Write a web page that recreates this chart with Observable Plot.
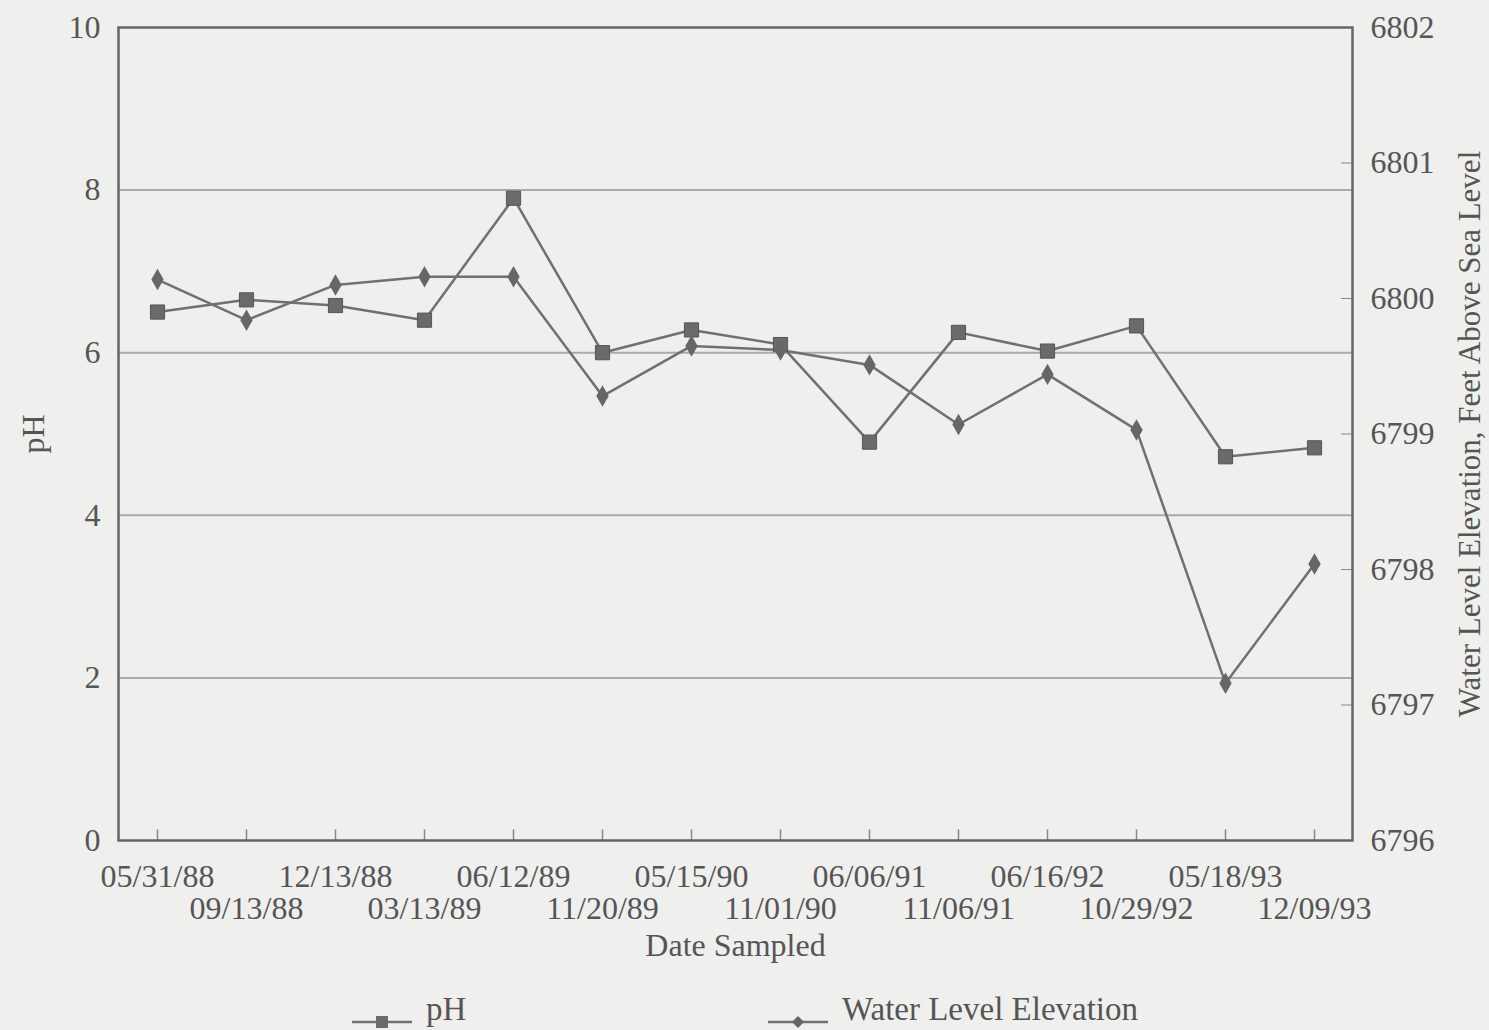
<!DOCTYPE html>
<html><head><meta charset="utf-8">
<script src="https://cdn.jsdelivr.net/npm/d3@7"></script>
<script src="https://cdn.jsdelivr.net/npm/@observablehq/plot@0.6"></script>
<style>
body{margin:0;background:#efefed;font-family:"Liberation Serif",serif;color:#555;}
#legend{position:relative;width:1489px;height:50px;font-size:33px;}
.item{position:absolute;top:4px;height:50px;display:flex;align-items:center;}
</style></head>
<body>
<div id="chart"></div>
<div id="legend"></div>
<script>
const dates = ["05/31/88","09/13/88","12/13/88","03/13/89","06/12/89","11/20/89","05/15/90","11/01/90","06/06/91","11/06/91","06/16/92","10/29/92","05/18/93","12/09/93"];
const pH = [6.5,6.65,6.58,6.4,7.9,6.0,6.28,6.1,4.9,6.25,6.02,6.33,4.72,4.83];
const waterLevel = [6800.14,6799.84,6800.10,6800.16,6800.16,6799.28,6799.65,6799.62,6799.51,6799.07,6799.44,6799.03,6797.16,6798.04];
const pHTicks = [0,2,4,6,8,10];
const gridTicks = [2,4,6,8];
const waterTicks = [6796,6797,6798,6799,6800,6801,6802];
const wMin = 6796, wMax = 6802;

const toPH = w => (w - wMin) * 10 / (wMax - wMin);
const phData = dates.map((d,i)=>({date:d, v:pH[i]}));
const wData = dates.map((d,i)=>({date:d, v:toPH(waterLevel[i]), w:waterLevel[i]}));
const even = dates.filter((d,i)=>i%2===0);
const odd = dates.filter((d,i)=>i%2===1);

const chart = Plot.plot({
  width:1489, height:980,
  marginLeft:118, marginRight:137, marginTop:27, marginBottom:140,
  style:{background:"#efefed", fontFamily:"Liberation Serif, serif", fontSize:"32px", color:"#555"},
  x:{type:"point", domain:dates, padding:0.43},
  y:{domain:[0,10]},
  marks:[
    Plot.ruleY(gridTicks,{stroke:"#aaa", strokeWidth:2}),
    Plot.ruleX(dates,{x:d=>d, y1:0, y2:0.13, stroke:"#888", strokeWidth:1.5}),
    Plot.axisX({ticks:even, tickSize:0, tickPadding:24, fontSize:32, fill:"#555", label:null}),
    Plot.axisX({ticks:odd, tickSize:0, tickPadding:56, fontSize:32, fill:"#555", label:null}),
    Plot.axisY({ticks:pHTicks, tickSize:0, tickPadding:18, fontSize:32, fill:"#555", label:null}),
    Plot.axisY({anchor:"right", ticks:waterTicks.map(toPH), tickSize:-12, tickFormat:()=>"", stroke:"#888", label:null}),
    Plot.axisY({anchor:"right", ticks:waterTicks.map(toPH), tickSize:0, tickPadding:18, fontSize:32, fill:"#555",
      tickFormat:v=>String(Math.round(v*(wMax-wMin)/10 + wMin)), label:null}),
    Plot.frame({stroke:"#666", strokeWidth:2.5}),
    Plot.line(phData,{x:"date", y:"v", stroke:"#707070", strokeWidth:2.5}),
    Plot.line(wData,{x:"date", y:"v", stroke:"#707070", strokeWidth:2.5}),
    Plot.dot(phData,{x:"date", y:"v", symbol:"square", r:8, fill:"#6a6a6a", stroke:"#555", strokeWidth:1}),
    Plot.dot(wData,{x:"date", y:"v", symbol:"diamond", r:6.5, fill:"#666"}),
    Plot.text(["pH"],{frameAnchor:"left", dx:-85, rotate:-90, textAnchor:"middle", lineAnchor:"middle", fontSize:32, fill:"#555"}),
    Plot.text(["Water Level Elevation, Feet Above Sea Level"],{frameAnchor:"right", dx:118, rotate:-90, textAnchor:"middle", lineAnchor:"middle", fontSize:31, fill:"#555"}),
    Plot.text(["Date Sampled"],{frameAnchor:"bottom", dy:105, textAnchor:"middle", lineAnchor:"middle", fontSize:32, fill:"#555"})
  ]
});
document.getElementById("chart").append(chart);

const legendItems = [
  {label:"pH", symbol:"square", left:352},
  {label:"Water Level Elevation", symbol:"diamond", left:768}
];
const lg = document.getElementById("legend");
legendItems.forEach(it=>{
  const div = document.createElement("div");
  div.className="item"; div.style.left = it.left+"px";
  const mark = it.symbol==="square"
    ? '<rect x="24" y="32" width="12" height="12" fill="#6a6a6a"/>'
    : '<path d="M30 32 L36 38 L30 44 L24 38Z" fill="#666"/>';
  div.innerHTML = `<svg width="62" height="50" style="margin-right:12px"><line x1="0" x2="60" y1="38" y2="38" stroke="#707070" stroke-width="2.5"/>${mark}</svg><span>${it.label}</span>`;
  lg.append(div);
});
</script>
</body></html>
